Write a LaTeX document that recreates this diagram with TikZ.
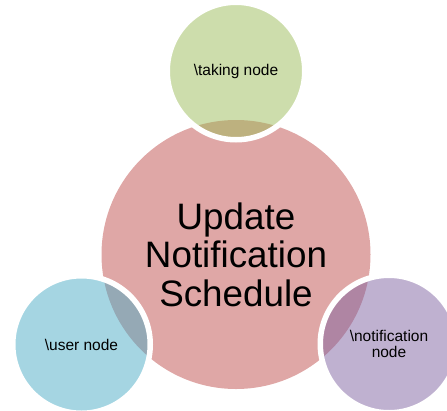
\documentclass[tikz,border=0pt]{standalone}
\usepackage{fontspec}
\setmainfont{Liberation Sans}
\definecolor{accred}{HTML}{C0504D}
\definecolor{accgreen}{HTML}{9BBB59}
\definecolor{accaqua}{HTML}{4BACC6}
\definecolor{accpurple}{HTML}{8064A2}
\begin{document}
\begin{tikzpicture}[x=1pt,y=-1pt,
  hub/.style={circle, inner sep=0pt, minimum size=269pt, fill=accred, fill opacity=0.5, text opacity=1, align=center, font=\fontsize{36.8}{38.5}\selectfont},
  sat/.style={circle, inner sep=0pt, minimum size=137.5pt, draw=white, line width=5.5pt, draw opacity=1, fill opacity=0.5, text opacity=1, align=center, font=\fontsize{15.5}{16.5}\selectfont}]
\useasboundingbox (0,0) rectangle (447,410);
\clip (0,0) rectangle (447,410);
\node[hub] (hub) at (236,254.5) {Update\\Notification\\Schedule};
\node[sat, fill=accgreen] (taking) at (236,71) {\textbackslash taking node};
\node[sat, fill=accaqua] (user) at (81.5,344.5) {\textbackslash user node};
\node[sat, fill=accpurple] (notif) at (389,344) {\textbackslash notification\\node};
\end{tikzpicture}
\end{document}
